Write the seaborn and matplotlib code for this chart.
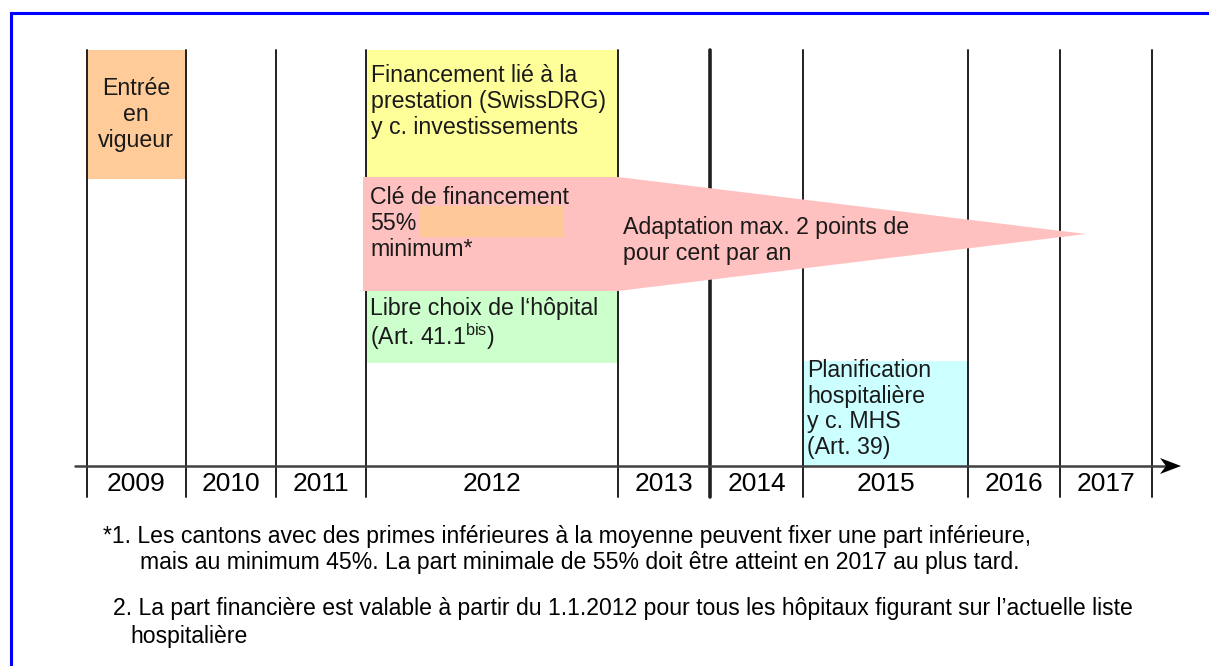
import matplotlib
matplotlib.use("Agg")
import matplotlib.pyplot as plt
from matplotlib.patches import Rectangle, Polygon
import seaborn as sns

sns.set_style("white")
plt.rcParams['font.family'] = ['Liberation Sans', 'DejaVu Sans']
plt.rcParams['mathtext.fontset'] = 'custom'
plt.rcParams['mathtext.rm'] = 'Liberation Sans'

# ---- data ----
years = ["2009", "2010", "2011", "2012", "2013", "2014", "2015", "2016", "2017"]
year_edges = [87, 186, 276, 366, 618, 710, 803, 968, 1060, 1152]

box_labels = [
    "Entrée\nen\nvigueur",
    "Financement lié à la\nprestation (SwissDRG)\ny c. investissements",
    "Libre choix de l‘hôpital\n(Art. 41.1$^{\\mathrm{bis}}$)",
    "Planification\nhospitalière\ny c. MHS\n(Art. 39)",
]
key_label = "Clé de financement\n55%\nminimum*"
adapt_label = "Adaptation max. 2 points de\npour cent par an"
notes = [
    "*1. Les cantons avec des primes inférieures à la moyenne peuvent fixer une part inférieure,",
    "mais au minimum 45%. La part minimale de 55% doit être atteint en 2017 au plus tard.",
    "2. La part financière est valable à partir du 1.1.2012 pour tous les hôpitaux figurant sur l’actuelle liste",
    "hospitalière",
]

W, H = 1209, 666
fig = plt.figure(figsize=(W / 100, H / 100), dpi=100)
ax = fig.add_axes([0, 0, 1, 1])
ax.set_xlim(0, W)
ax.set_ylim(H, 0)
ax.axis("off")

# blue frame
ax.plot([11, 11, W + 5], [H + 5, 13, 13], color="#0000FF", lw=2.2, solid_joinstyle="miter")

top, axis_y, bottom = 50, 466, 497

# coloured boxes
ax.add_patch(Rectangle((87, top), 99, 129, facecolor="#FFCC99", edgecolor="none", zorder=1))
ax.add_patch(Rectangle((366, top), 252, 128, facecolor="#FFFF99", edgecolor="none", zorder=1))
ax.add_patch(Rectangle((366, 290), 252, 73, facecolor="#CCFFCC", edgecolor="none", zorder=1))
ax.add_patch(Rectangle((803, 361), 165, axis_y - 361, facecolor="#CCFFFF", edgecolor="none", zorder=1))
# pink tapered arrow
ax.add_patch(Polygon([(363, 177), (618, 177), (1086, 234), (618, 291), (363, 291)],
                     closed=True, facecolor="#FFC0C0", edgecolor="none", zorder=3))
ax.add_patch(Rectangle((420, 206), 143, 31, facecolor="#FFC898", edgecolor="none", zorder=4))

# vertical year lines
for x in year_edges:
    lw = 2.6 if x == 710 else 1.4
    ax.plot([x, x], [top, bottom], color="#202020", lw=lw, zorder=2)

# time axis with arrow
ax.plot([75, 1165], [axis_y, axis_y], color="#404040", lw=1.8, zorder=5)
ax.add_patch(Polygon([(1160, 458), (1181, 466), (1160, 474), (1166, 466)], closed=True,
                     facecolor="black", edgecolor="none", zorder=5))

# year labels
for i, y in enumerate(years):
    xc = (year_edges[i] + year_edges[i + 1]) / 2
    ax.text(xc, 484, y, ha="center", va="center", fontsize=19, color="black", zorder=6)

fs = 16.7
ls = 1.17
tc = "#1a1a1a"
ax.text(136, 77, box_labels[0], ha="center", va="top", fontsize=fs, linespacing=ls, color=tc, zorder=6)
ax.text(371, 64, box_labels[1], ha="left", va="top", fontsize=fs, linespacing=ls, color=tc, zorder=6)
ax.text(370, 297, box_labels[2], ha="left", va="top", fontsize=fs, linespacing=1.05, color=tc, zorder=6)
ax.text(807, 359, box_labels[3], ha="left", va="top", fontsize=fs, linespacing=1.14, color=tc, zorder=6)
ax.text(370, 186, key_label, ha="left", va="top", fontsize=fs, linespacing=ls, color=tc, zorder=6)
ax.text(623, 216, adapt_label, ha="left", va="top", fontsize=fs, linespacing=ls, color=tc, zorder=6)

# footnotes
nf = ['Liberation Sans Narrow', 'Liberation Sans', 'DejaVu Sans']
note_pos = [(103, 536), (140, 562), (113, 609), (130, 636)]
for (x, y), t in zip(note_pos, notes):
    ax.text(x, y, t, ha="left", va="center", fontsize=16.6, family=nf, color="black")

fig.savefig("out.png", dpi=100)
